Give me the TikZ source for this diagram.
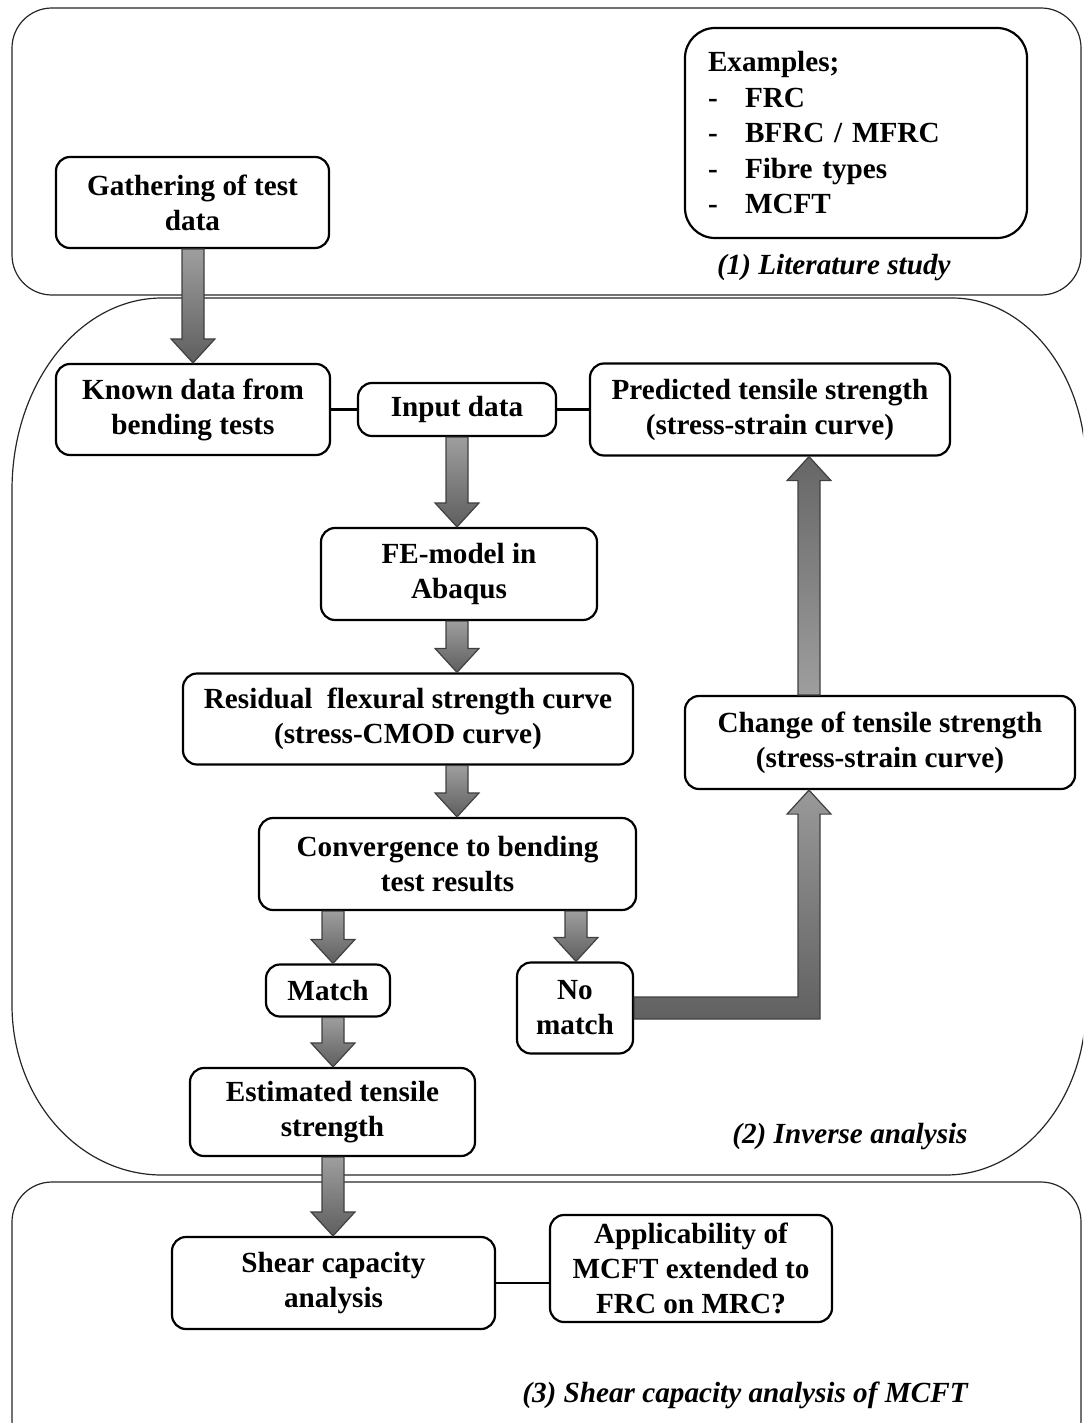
\documentclass[tikz,border=0pt]{standalone}
\usepackage{fontspec}
\setmainfont{Liberation Serif}
\usetikzlibrary{calc}
\newcommand\boxfont{\fontsize{14.6}{17.5}\selectfont\bfseries}
\tikzset{
  box/.style={draw, line width=1.1pt, rounded corners=7pt, fill=white,
    align=center, font=\boxfont, inner sep=2pt},
  sz/.style 2 args={minimum width={#1*0.5pt}, minimum height={#2*0.5pt}},
  container/.style={draw=black!85, line width=0.6pt},
  conn/.style={draw, line width=1.1pt},
  section/.style={font=\fontsize{14.6}{17.5}\selectfont\bfseries\itshape, inner sep=0pt},
  blockarrow/.style={top color=black!38, bottom color=black!63, draw=black!75, line width=0.6pt},
  blockup/.style={top color=black!60, bottom color=black!38, draw=black!75, line width=0.6pt},
  blockel/.style={top color=black!40, bottom color=black!62, draw=black!75, line width=0.6pt}}
\newcommand\BlockDown[3]{% #1 x coordinate, #2 from node, #3 to node
  \path[blockarrow]
    ($(#2.south -| #1)+(-11,0)$) -- ($(#3.north -| #1)+(-11,-24)$)
    -- ($(#3.north -| #1)+(-22,-24)$) -- (#3.north -| #1)
    -- ($(#3.north -| #1)+(22,-24)$) -- ($(#3.north -| #1)+(11,-24)$)
    -- ($(#2.south -| #1)+(11,0)$) -- cycle;}
\begin{document}
\begin{tikzpicture}[x=0.5pt,y=-0.5pt]
\useasboundingbox (0,0) rectangle (1083,1423);
\clip (0,0) rectangle (1083,1423);

% containers
\draw[container, rounded corners=20pt] (12,8) rectangle (1081,295);
\draw[container] (162,298) -- (952,298)
  .. controls (1026,298) and (1086,374) .. (1086,468)
  -- (1086,1005)
  .. controls (1086,1099) and (1023,1175) .. (946,1175)
  -- (162,1175)
  .. controls (79,1175) and (12,1099) .. (12,1005)
  -- (12,490)
  .. controls (12,384) and (79,298) .. (162,298) -- cycle;
\draw[container, rounded corners=20pt] (12,1182) rectangle (1081,1460);

% nodes
\node[box, sz={273}{91}] (gather) at (192.5,202.5) {Gathering of test\\data};
\node[box, rounded corners=15pt, align=left, text width=148pt, inner xsep=11.5pt,
  minimum height=105pt, font=\fontsize{14.6}{17.75}\selectfont\bfseries] (examples) at (856,133)
  {Examples;\\\makebox[18.5pt][l]{-}FRC\\\makebox[18.5pt][l]{-}BFRC / MFRC\\
   \makebox[18.5pt][l]{-}Fibre types\\\makebox[18.5pt][l]{-}MCFT};
\node[section, anchor=east] (lit) at (951,268) {(1) Literature study};

\node[box, sz={274}{91}] (known) at (193,409.5) {Known data from\\bending tests};
\node[box, sz={198}{53}] (input) at (457,409.5) {Input data};
\node[box, sz={360}{92}] (pred) at (770,409.5) {Predicted tensile strength\\(stress-strain curve)};
\node[box, sz={276}{92}] (fe) at (459,574) {FE-model in\\Abaqus};
\node[box, sz={450}{91}] (resid) at (408,719) {Residual\ \ flexural strength curve\\(stress-CMOD curve)};
\node[box, sz={390}{93}] (change) at (880,742.5) {Change of tensile strength\\(stress-strain curve)};
\node[box, sz={377}{92}] (conv) at (447.5,864) {Convergence to bending\\test results};
\node[box, sz={124}{52}] (match) at (328,990.5) {Match};
\node[box, sz={116}{91}] (nomatch) at (575,1008) {No\\match};
\node[box, sz={285}{88}] (est) at (332.5,1112) {Estimated tensile\\strength};
\node[section, anchor=east] (inv) at (968,1137) {(2) Inverse analysis};

\node[box, sz={323}{92}] (shear) at (333.5,1283) {Shear capacity\\analysis};
\node[box, sz={282}{107}] (appl) at (691,1268.5) {Applicability of\\MCFT extended to\\FRC on MRC?};
\node[section, anchor=east] (mcft) at (968,1395) {(3) Shear capacity analysis of MCFT};

% plain connectors
\draw[conn] (known.east) -- (input.west);
\draw[conn] (input.east) -- (pred.west |- input.east);
\draw[conn] (shear.east) -- (shear.east -| appl.west);

% arrow x positions
\coordinate (xa) at (193,0);
\coordinate (xb) at (457,0);
\coordinate (xc) at (333,0);
\coordinate (xd) at (576,0);
\coordinate (xr) at (809,0);

\BlockDown{xa}{gather}{known}
\BlockDown{xb}{input}{fe}
\BlockDown{xb}{fe}{resid}
\BlockDown{xb}{resid}{conv}
\BlockDown{xc}{conv}{match}
\BlockDown{xd}{conv}{nomatch}
\BlockDown{xc}{match}{est}
\BlockDown{xc}{est}{shear}

% up arrow change -> predicted
\path[blockup]
  ($(change.north -| xr)+(-11,0)$) -- ($(pred.south -| xr)+(-11,24)$)
  -- ($(pred.south -| xr)+(-22,24)$) -- (pred.south -| xr)
  -- ($(pred.south -| xr)+(22,24)$) -- ($(pred.south -| xr)+(11,24)$)
  -- ($(change.north -| xr)+(11,0)$) -- cycle;

% L-shaped arrow no match -> change
\path[blockel]
  ($(nomatch.east)+(0,-11)$) -- ($(nomatch.east -| xr)+(-11,-11)$)
  -- ($(change.south -| xr)+(-11,24)$) -- ($(change.south -| xr)+(-22,24)$)
  -- (change.south -| xr) -- ($(change.south -| xr)+(22,24)$)
  -- ($(change.south -| xr)+(11,24)$) -- ($(nomatch.east -| xr)+(11,11)$)
  -- ($(nomatch.east)+(0,11)$) -- cycle;
\end{tikzpicture}
\end{document}
